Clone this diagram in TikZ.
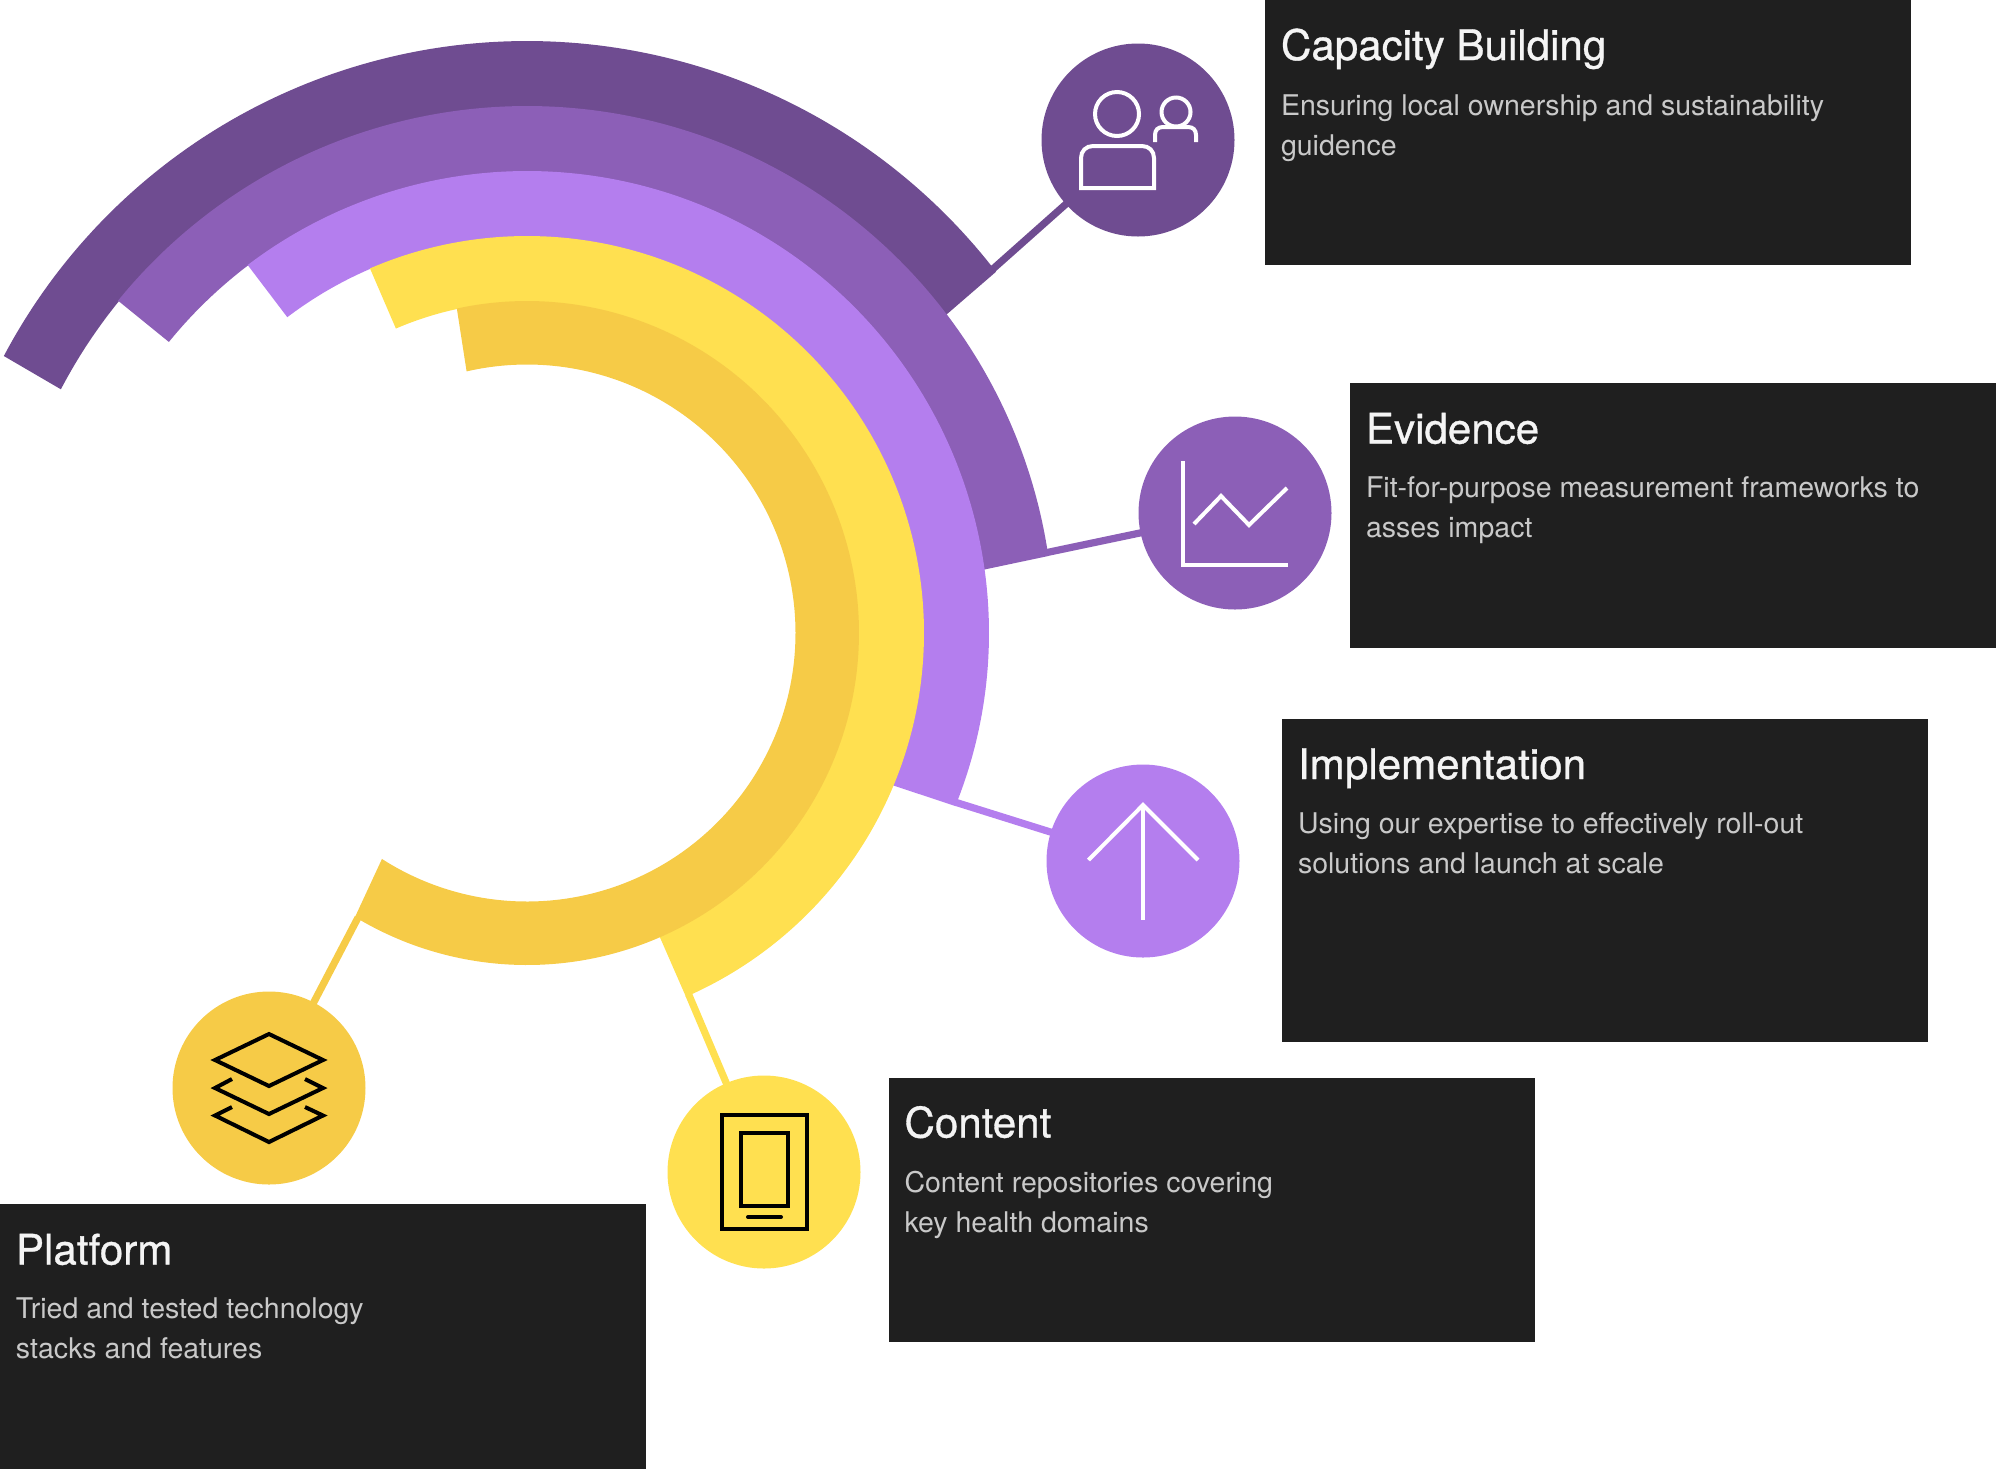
\documentclass[tikz,border=0pt]{standalone}
\usepackage{fontspec}
\setmainfont{TeX Gyre Heros}
\newfontfamily\titlefont[FakeBold=0.8]{TeX Gyre Heros}
\definecolor{cdark}{HTML}{6F4C91}
\definecolor{cmid}{HTML}{8C5FB7}
\definecolor{clight}{HTML}{B47EEE}
\definecolor{cyel}{HTML}{FFE050}
\definecolor{cgold}{HTML}{F6CB47}
\definecolor{cbox}{HTML}{1F1F1F}
\definecolor{ctitle}{HTML}{F4F4F4}
\definecolor{cbody}{HTML}{C9C9C9}
\tikzset{
  infobox/.style={fill=cbox,draw=none,inner sep=0pt,outer sep=0pt,anchor=north west},
  titletext/.style={text=ctitle,font=\titlefont\fontsize{21.05pt}{25pt}\selectfont,anchor=base west,inner sep=0pt,outer sep=0pt},
  bodytext/.style={text=cbody,font=\fontsize{14.25pt}{20pt}\selectfont,anchor=north west,inner sep=0pt,outer sep=0pt,align=left},
  disc/.style={circle,fill=#1,draw=none,minimum size=96.5pt,inner sep=0pt,outer sep=0pt},
  link/.style={draw=#1,line width=3.6pt,shorten >=-2pt},
  iconw/.style={draw=white,line width=2pt,line join=miter},
  iconk/.style={draw=black,line width=2pt,line join=miter},
}
\newcommand{\ringseg}[7]{%
  \fill[#1] plot[domain=#4:#5,samples=240] ({527+#2*cos(\x)},{633-#2*sin(\x)})
    -- plot[domain=#6:#7,samples=240] ({527+#3*cos(\x)},{633-#3*sin(\x)}) -- cycle;}
\begin{document}
\begin{tikzpicture}[x=0.5pt,y=-0.5pt]
\useasboundingbox (0,0) rectangle (1996,1469);
% rings
\ringseg{cdark}{592}{526}{152.1}{37.6}{37.2}{152.4}
\ringseg{cmid}{527}{461.5}{140.9}{8.4}{7.9}{140.9}
\ringseg{clight}{462}{396.5}{127.2}{-22}{-22.6}{127.2}
\ringseg{cyel}{397}{331.5}{113.3}{-66.4}{-66.4}{113.3}
\ringseg{cgold}{332}{268.5}{102.2}{-121.2}{-122.7}{103}
% connector ends on the rings
\coordinate (ra) at ({527+591*cos(38)},{633-591*sin(38)});
\coordinate (rb) at ({527+526*cos(8.8)},{633-526*sin(8.8)});
\coordinate (rc) at ({527+461*cos(-21.55)},{633-461*sin(-21.55)});
\coordinate (rd) at ({527+396*cos(-65.9)},{633-396*sin(-65.9)});
\coordinate (re) at ({527+331*cos(-120.7)},{633-331*sin(-120.7)});
% circles
\node[disc=cdark] (capc) at (1138,140) {};
\node[disc=cmid] (evic) at (1235,513) {};
\node[disc=clight] (impc) at (1143,861) {};
\node[disc=cyel] (conc) at (764,1172) {};
\node[disc=cgold] (plac) at (269,1088) {};
% connectors
\draw[link=cdark] (ra) -- (capc);
\draw[link=cmid] (rb) -- (evic);
\draw[link=clight] (rc) -- (impc);
\draw[link=cyel] (rd) -- (conc);
\draw[link=cgold] (re) -- (plac);
% boxes
\node[infobox,minimum width=323pt,minimum height=132.5pt] (capb) at (1264.5,0) {};
\node[infobox,minimum width=323pt,minimum height=132.5pt] (evib) at (1350,383) {};
\node[infobox,minimum width=323pt,minimum height=161.5pt] (impb) at (1282,718.5) {};
\node[infobox,minimum width=323pt,minimum height=132pt] (conb) at (888.5,1077.5) {};
\node[infobox,minimum width=323pt,minimum height=132.5pt] (plab) at (0,1204) {};
% text
\node[titletext] (capt) at (1281,60) {Capacity Building};
\node[bodytext] (capd) at (1281,94.5) {Ensuring local ownership and sustainability\\guidence};
\node[titletext] (evit) at (1366,443.5) {Evidence};
\node[bodytext] (evid) at (1366,476.5) {Fit-for-purpose measurement frameworks to\\asses impact};
\node[titletext] (impt) at (1298,779) {Implementation};
\node[bodytext] (impd) at (1298,812.5) {Using our expertise to effectively roll-out\\solutions and launch at scale};
\node[titletext] (cont) at (904.5,1137.5) {Content};
\node[bodytext] (cond) at (904.5,1171.5) {Content repositories covering\\key health domains};
\node[titletext] (plat) at (16,1264.5) {Platform};
\node[bodytext] (plad) at (16,1297.5) {Tried and tested technology\\stacks and features};
% icons: people
\draw[iconw] (1117,114) circle (22);
\draw[iconw] (1081,188) -- (1081,158) .. controls (1081,151) and (1086,146) .. (1093,146) -- (1142,146) .. controls (1149,146) and (1154,151) .. (1154,158) -- (1154,188) -- cycle;
\draw[iconw] (1176,112) circle (14.5);
\draw[iconw] (1155,142) -- (1155,135) .. controls (1155,130) and (1158,127) .. (1163,127) -- (1188,127) .. controls (1193,127) and (1196,130) .. (1196,135) -- (1196,142);
% icons: chart
\draw[iconw] (1183,461) -- (1183,565) -- (1288,565);
\draw[iconw] (1194,524) -- (1221,496) -- (1249,525) -- (1287,488);
% icons: arrow
\draw[iconw] (1088.5,860) -- (1143,805) -- (1198,860);
\draw[iconw] (1143,805) -- (1143,920);
% icons: layers
\draw[iconk] (215,1060) -- (269,1034) -- (323,1060) -- (269,1086) -- cycle;
\draw[iconk] (232,1079) -- (215,1088) -- (269,1114) -- (323,1088) -- (305,1079);
\draw[iconk] (232,1107) -- (215,1115.5) -- (269,1142) -- (323,1115.5) -- (305,1107);
% icons: tablet
\draw[iconk] (722,1115) rectangle (807,1229);
\draw[iconk] (741,1133) rectangle (788,1206);
\draw[iconk,line cap=round] (748,1217) -- (781,1217);
\end{tikzpicture}
\end{document}
